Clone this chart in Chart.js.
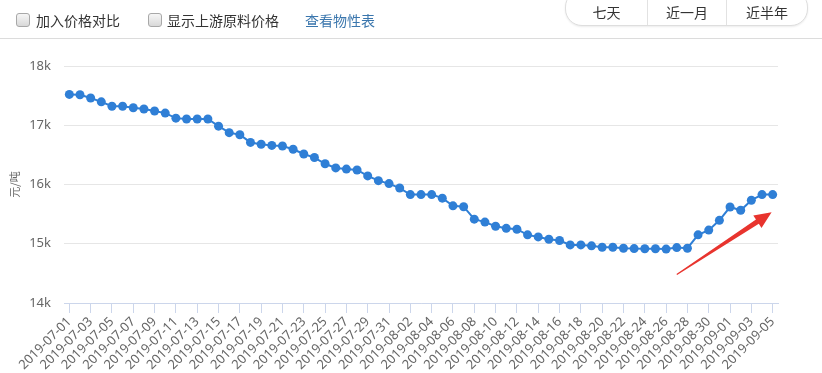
<!DOCTYPE html>
<html>
<head>
<meta charset="utf-8">
<script src="https://cdn.jsdelivr.net/npm/chart.js@4.4.1/dist/chart.umd.min.js"></script>
<style>
body { margin: 0; background: #fff; font-family: "Noto Sans CJK SC", sans-serif; }
#wrap { position: relative; width: 822px; height: 373px; overflow: hidden; }
#chart { position: absolute; left: 0; top: 0; }
.bar { position: absolute; left: 0; top: 0; width: 822px; height: 38px; border-bottom: 1px solid #dcdcdc; }
.cb { position: absolute; top: 13px; width: 12px; height: 12px; border: 1px solid #a8a8a8; border-radius: 3px; background: linear-gradient(#f6f6f6, #d9d9d9); }
.lbl { position: absolute; top: 10px; font-size: 14px; line-height: 20px; color: #333; }
.link { color: #3a76ad; }
.btns { position: absolute; left: 565px; top: -10px; width: 241px; height: 34px; border: 1px solid #dedede; border-radius: 17px; box-shadow: 0 1px 2px rgba(0,0,0,0.08); display: flex; background: #fff; }
.btns div { height: 34px; box-sizing: border-box; padding-top: 11px; line-height: 20px; font-size: 14px; color: #333; text-align: center; }
.btns div + div { border-left: 1px solid #e2e2e2; }
</style>
</head>
<body>
<div id="wrap">
  <canvas id="chart" width="822" height="373"></canvas>
  <div class="bar">
    <div class="cb" style="left:16px"></div>
    <div class="lbl" style="left:36px">加入价格对比</div>
    <div class="cb" style="left:148px"></div>
    <div class="lbl" style="left:167px">显示上游原料价格</div>
    <div class="lbl link" style="left:305px">查看物性表</div>
    <div class="btns">
      <div style="width:81px">七天</div>
      <div style="width:79px">近一月</div>
      <div style="width:81px">近半年</div>
    </div>
  </div>
</div>
<script>
// daily dates shown on the x axis
const dates = [
  "2019-07-01","2019-07-02","2019-07-03","2019-07-04","2019-07-05","2019-07-06","2019-07-07","2019-07-08",
  "2019-07-09","2019-07-10","2019-07-11","2019-07-12","2019-07-13","2019-07-14","2019-07-15","2019-07-16",
  "2019-07-17","2019-07-18","2019-07-19","2019-07-20","2019-07-21","2019-07-22","2019-07-23","2019-07-24",
  "2019-07-25","2019-07-26","2019-07-27","2019-07-28","2019-07-29","2019-07-30","2019-07-31","2019-08-01",
  "2019-08-02","2019-08-03","2019-08-04","2019-08-05","2019-08-06","2019-08-07","2019-08-08","2019-08-09",
  "2019-08-10","2019-08-11","2019-08-12","2019-08-13","2019-08-14","2019-08-15","2019-08-16","2019-08-17",
  "2019-08-18","2019-08-19","2019-08-20","2019-08-21","2019-08-22","2019-08-23","2019-08-24","2019-08-25",
  "2019-08-26","2019-08-27","2019-08-28","2019-08-29","2019-08-30","2019-08-31","2019-09-01","2019-09-02",
  "2019-09-03","2019-09-04","2019-09-05"
];

// price, yuan per ton
const prices = [
  17520, 17515, 17460, 17395, 17320, 17320, 17295, 17275, 17240, 17205,
  17120, 17105, 17105, 17105, 16985, 16875, 16840, 16710, 16680, 16660,
  16650, 16595, 16515, 16455, 16350, 16280, 16260, 16245, 16145, 16065,
  16015, 15940, 15830, 15830, 15830, 15770, 15640, 15625, 15415, 15365,
  15295, 15260, 15245, 15150, 15115, 15075, 15055, 14980, 14980, 14965,
  14940, 14940, 14925, 14918, 14915, 14915, 14910, 14935, 14925, 15150,
  15230, 15395, 15620, 15565, 15735, 15830, 15830
];

const yTicks = [14000, 15000, 16000, 17000, 18000];
const yTitle = "元/吨";

// red annotation arrow, given as [index, price]
const arrowFrom = [57, 14480];
const arrowTo = [65.9, 15530];

const arrowPlugin = {
  id: "arrow",
  afterDatasetsDraw(chart) {
    const { ctx, scales: { x, y } } = chart;
    const x0 = x.getPixelForValue(arrowFrom[0]), y0 = y.getPixelForValue(arrowFrom[1]);
    const x1 = x.getPixelForValue(arrowTo[0]), y1 = y.getPixelForValue(arrowTo[1]);
    const dx = x1 - x0, dy = y1 - y0, len = Math.hypot(dx, dy);
    const ux = dx / len, uy = dy / len, nx = -uy, ny = ux;
    const headLen = 17, bx = x1 - ux * headLen, by = y1 - uy * headLen;
    ctx.save();
    ctx.fillStyle = "#e8342e";
    ctx.beginPath();
    ctx.moveTo(x0 + nx * 0.6, y0 + ny * 0.6);
    ctx.lineTo(bx + nx * 2.6, by + ny * 2.6);
    ctx.lineTo(bx + nx * 7.5, by + ny * 7.5);
    ctx.lineTo(x1, y1);
    ctx.lineTo(bx - nx * 7.5, by - ny * 7.5);
    ctx.lineTo(bx - nx * 2.6, by - ny * 2.6);
    ctx.lineTo(x0 - nx * 0.6, y0 - ny * 0.6);
    ctx.closePath();
    ctx.fill();
    ctx.restore();
  }
};

new Chart(document.getElementById("chart"), {
  type: "line",
  data: {
    labels: dates,
    datasets: [{
      data: prices,
      borderColor: "#2f7fd6",
      backgroundColor: "#2f7fd6",
      borderWidth: 2,
      pointRadius: 4.5,
      pointBorderWidth: 0,
      tension: 0
    }]
  },
  options: {
    responsive: false,
    animation: false,
    devicePixelRatio: 1,
    events: [],
    layout: { padding: { top: 66, right: 44, left: 0, bottom: 0 } },
    plugins: { legend: { display: false }, tooltip: { enabled: false } },
    scales: {
      x: {
        offset: true,
        afterFit: s => { s.height = 70; },
        grid: {
          offset: false,
          drawOnChartArea: false,
          drawTicks: true,
          tickLength: 10,
          color: c => (c.index % 2 === 0 ? "#ccd6eb" : "rgba(0,0,0,0)")
        },
        border: { color: "#ccd6eb", width: 1 },
        ticks: {
          autoSkip: false,
          minRotation: 45,
          maxRotation: 45,
          padding: 1,
          color: "#666",
          font: { family: "Noto Sans", size: 13 },
          callback: (v, i) => (i % 2 === 0 ? dates[i] : "")
        }
      },
      y: {
        min: 14000,
        max: 18000,
        afterFit: s => { s.width = 64; },
        afterBuildTicks: s => { s.ticks = yTicks.map(v => ({ value: v })); },
        grid: { color: "#e6e6e6", drawTicks: false },
        border: { display: false },
        ticks: {
          padding: 13,
          color: "#666",
          font: { family: "Noto Sans", size: 13 },
          callback: v => v / 1000 + "k"
        },
        title: {
          display: true,
          text: yTitle,
          color: "#666",
          padding: { top: 8, bottom: 0 },
          font: { family: "Noto Sans CJK SC", size: 11 }
        }
      }
    }
  },
  plugins: [arrowPlugin]
});
</script>
</body>
</html>
